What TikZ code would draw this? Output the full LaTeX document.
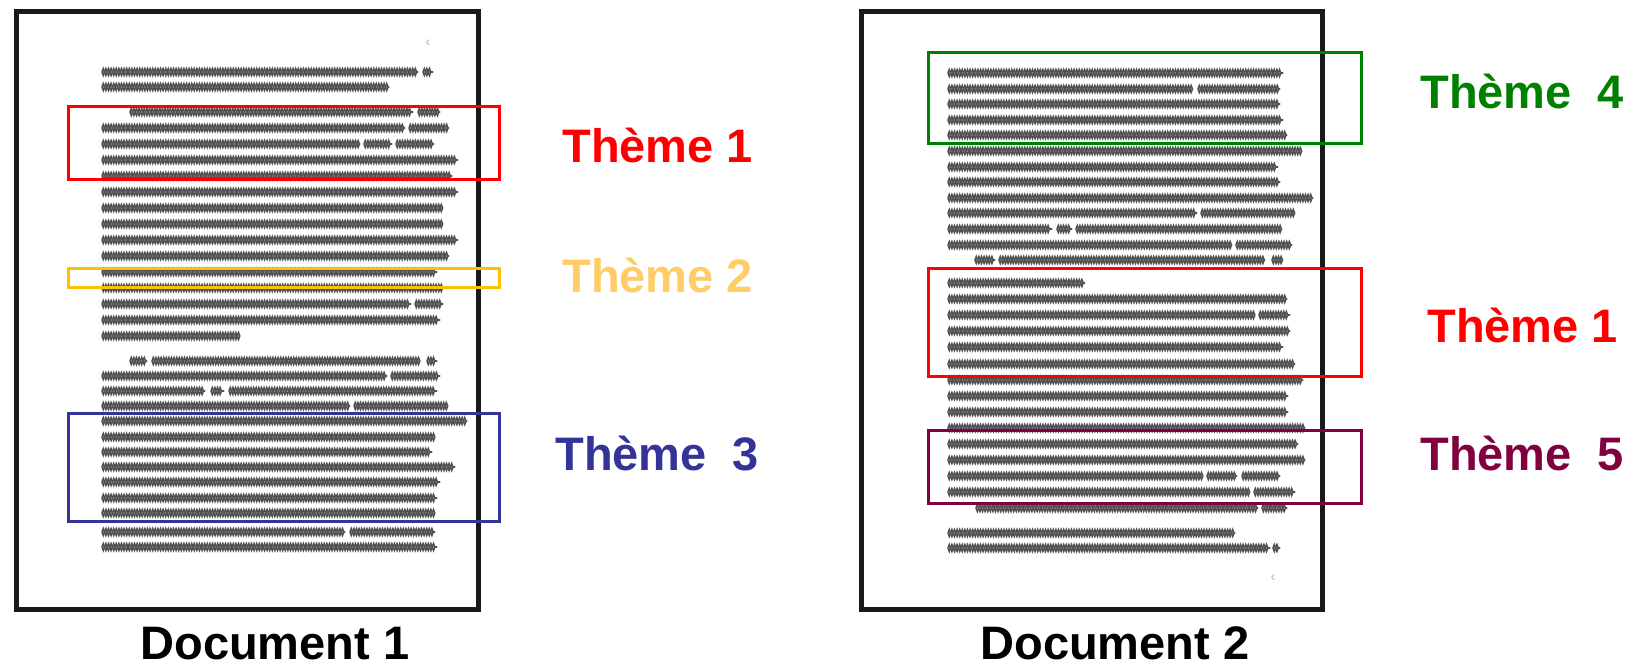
\documentclass[tikz,border=0pt]{standalone}
\usepackage{fontspec}
\setmainfont{Liberation Sans}
\usetikzlibrary{decorations.pathmorphing}
\definecolor{thred}{RGB}{255,0,0}
\definecolor{thyellowbox}{RGB}{255,192,0}
\definecolor{thyellowtxt}{RGB}{255,204,102}
\definecolor{thblue}{RGB}{51,51,153}
\definecolor{thgreen}{RGB}{0,128,0}
\definecolor{thpurple}{RGB}{128,0,64}
\tikzset{
  zz/.style={draw=black!68, line width=0.8pt, decorate,
    decoration={zigzag, segment length=2.6pt, amplitude=1.7pt}},
  zzb/.style={draw=black!68, line width=0.8pt, decorate,
    decoration={zigzag, segment length=2.6pt, amplitude=-1.7pt}},
  pageframe/.style={draw=black!90, line width=2.5pt},
  themebox/.style={line width=1.5pt},
  biglabel/.style={font=\fontsize{23.5}{28}\selectfont\bfseries, anchor=base west, inner sep=0pt},
  faintmark/.style={font=\fontsize{7}{8}\selectfont, text=black!30, inner sep=0pt}
}
\newcommand\txtseg[3]{\draw[zz] (#1,#3) -- (#2,#3); \draw[zzb] (#1,#3) -- (#2,#3);}
\begin{document}
\begin{tikzpicture}[x=0.5pt,y=-0.5pt]
\useasboundingbox (0,0) rectangle (1634,666);
\fill[white] (0,0) rectangle (1634,666);

% pages
\draw[pageframe] (16,11) rectangle (478,609);
\draw[pageframe] (861,11) rectangle (1322,609);

% faint marks
\node[faintmark] (m1) at (428,43) {‹};
\node[faintmark] (m2) at (1273,578) {‹};

% Document 1 text lines
\foreach \a/\b/\y in {
 102/418/72, 423/433/72,
 102/389/87,
 130/413/112, 418/440/112,
 102/405/128, 409/449/128,
 102/360/144, 364/392/144, 396/434/144,
 102/458/160,
 102/452/176,
 102/458/192,
 102/443/208,
 102/443/224,
 102/458/240,
 102/449/256,
 102/437/272,
 102/443/288,
 102/411/304, 415/443/304,
 102/440/320,
 102/240/336,
 130/147/361, 152/420/361, 427/437/361,
 102/387/376, 391/440/376,
 102/205/391, 211/224/391, 229/437/391,
 102/350/406, 354/448/406,
 102/467/421,
 102/435/437,
 102/432/452,
 102/455/467,
 102/440/482,
 102/437/498,
 102/435/513,
 102/345/532, 350/435/532,
 102/437/547}
 {\txtseg{\a}{\b}{\y}}

% Document 2 text lines
\foreach \a/\b/\y in {
 948/1283/73,
 948/1193/89, 1198/1280/89,
 948/1280/104,
 948/1283/120,
 948/1287/135,
 948/1302/151,
 948/1278/167,
 948/1280/182,
 948/1313/198,
 948/1197/213, 1201/1295/213,
 948/1052/229, 1057/1072/229, 1076/1282/229,
 948/1232/245, 1236/1292/245,
 975/995/260, 999/1265/260, 1272/1283/260,
 948/1085/283,
 948/1287/299,
 948/1255/315, 1259/1290/315,
 948/1290/331,
 948/1283/347,
 948/1295/364,
 948/1303/380,
 948/1288/396,
 948/1288/412,
 948/1305/428,
 948/1298/444,
 948/1305/460,
 948/1203/476, 1207/1237/476, 1242/1280/476,
 948/1250/492, 1254/1295/492,
 976/1258/508, 1262/1287/508,
 948/1235/533,
 948/1270/548, 1273/1280/548}
 {\txtseg{\a}{\b}{\y}}

% theme boxes, document 1
\draw[themebox, thred] (68,106) rectangle (499,179);
\draw[themebox, thyellowbox] (68,268) rectangle (499,287);
\draw[themebox, thblue] (68,413) rectangle (499,521);
% theme boxes, document 2
\draw[themebox, thgreen] (928,52) rectangle (1361,143);
\draw[themebox, thred] (928,268) rectangle (1361,376);
\draw[themebox, thpurple] (928,430) rectangle (1361,503);

% labels
\node[biglabel, text=thred] (t1a) at (562,162) {Thème 1};
\node[biglabel, text=thyellowtxt] (t2) at (562,292) {Thème 2};
\node[biglabel, text=thblue] (t3) at (555,470) {Thème\ \ 3};
\node[biglabel, text=thgreen] (t4) at (1420,108) {Thème\ \ 4};
\node[biglabel, text=thred] (t1b) at (1427,342) {Thème 1};
\node[biglabel, text=thpurple] (t5) at (1420,470) {Thème\ \ 5};
\node[biglabel] (d1) at (140,659) {Document 1};
\node[biglabel] (d2) at (980,659) {Document 2};
\end{tikzpicture}
\end{document}
